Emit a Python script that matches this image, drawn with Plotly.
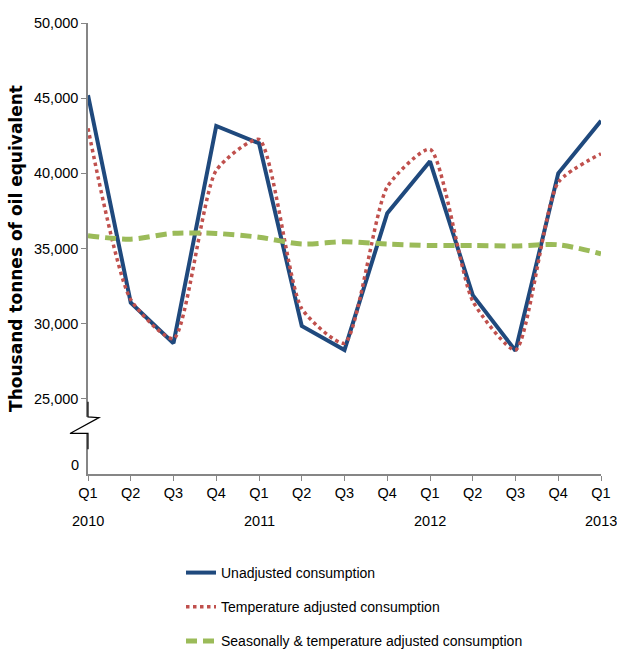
import plotly.graph_objects as go

# Quarterly energy consumption, thousand tonnes of oil equivalent
quarters = ["Q1", "Q2", "Q3", "Q4", "Q1", "Q2", "Q3", "Q4", "Q1", "Q2", "Q3", "Q4", "Q1"]
years = {0: "2010", 4: "2011", 8: "2012", 12: "2013"}

unadjusted = [45200, 31400, 28700, 43150, 42000, 29850, 28250, 37350, 40800, 31900, 28200, 40000, 43500]
temperature_adjusted = [43000, 31600, 29000, 40200, 42250, 31000, 28700, 39100, 41600, 31500, 28250, 39400, 41300]
seasonal_temp_adjusted = [35850, 35620, 36010, 36000, 35750, 35300, 35450, 35300, 35200, 35200, 35170, 35250, 34650]

y_ticks = [25000, 30000, 35000, 40000, 45000, 50000]
y_floor = 20000          # bottom of the broken axis, labelled as zero
zero_label_value = 20600

BLUE = "#1F497D"
RED = "#C0504D"
GREEN = "#9BBB59"
AXIS = "#868686"
FONT = "Liberation Sans, Arial, sans-serif"

x = list(range(len(quarters)))

fig = go.Figure()
fig.add_trace(go.Scatter(
    x=x, y=unadjusted, mode="lines", name="Unadjusted consumption",
    line=dict(color=BLUE, width=4), legendgroup="a"))
fig.add_trace(go.Scatter(
    x=x, y=temperature_adjusted, mode="lines", name="Temperature adjusted consumption",
    line=dict(color=RED, width=3.5, dash="dot", shape="spline", smoothing=0.6), legendgroup="b"))
fig.add_trace(go.Scatter(
    x=x, y=seasonal_temp_adjusted, mode="lines",
    name="Seasonally & temperature adjusted consumption",
    line=dict(color=GREEN, width=5, dash="11px,6px", shape="spline", smoothing=0.8), legendgroup="c"))

annotations = [
    dict(x=i, y=0, xref="x", yref="paper", text=t, showarrow=False,
         yanchor="top", yshift=-37, font=dict(family=FONT, size=14.5, color="#000"))
    for i, t in years.items()
]
annotations.append(dict(x=0, y=zero_label_value, xref="paper", yref="y", text="0",
                        showarrow=False, xanchor="right", xshift=-7,
                        font=dict(family=FONT, size=14.5, color="#000")))

shapes = [
    # gap in the value axis
    dict(type="rect", xref="paper", yref="y", xsizemode="pixel", xanchor=0,
         x0=-3, x1=3, y0=22700, y1=23800, fillcolor="white", line=dict(width=0),
         layer="above"),
    # axis-break zigzag
    dict(type="path", xref="paper", yref="y", xsizemode="pixel", xanchor=0,
         path="M 0,24810 L 0,23800 L 11,23750 L -18,22700 L 0,22700 L 0,21640",
         line=dict(color="black", width=1.2), layer="above"),
]

fig.update_layout(
    width=617, height=649,
    margin=dict(l=88, r=16, t=23, b=175, autoexpand=False),
    plot_bgcolor="white", paper_bgcolor="white",
    showlegend=True,
    legend=dict(
        x=(181 - 88) / 513, y=-0.184, xanchor="left", yanchor="top",
        orientation="v", traceorder="grouped", tracegroupgap=13,
        font=dict(family=FONT, size=14, color="#000"),
        bgcolor="rgba(0,0,0,0)"),
    xaxis=dict(
        range=[0, 12], tickmode="array", tickvals=x, ticktext=quarters,
        showline=True, linecolor=AXIS, linewidth=1.5,
        ticks="outside", ticklen=5, tickcolor=AXIS, tickwidth=1.2,
        showgrid=False, zeroline=False, automargin=False,
        tickfont=dict(family=FONT, size=14.5, color="#000")),
    yaxis=dict(
        range=[y_floor, 50000], tickmode="array", tickvals=y_ticks,
        tickformat=",d",
        showline=True, linecolor=AXIS, linewidth=1.5,
        ticks="outside", ticklen=5, tickcolor=AXIS, tickwidth=1.2,
        showgrid=False, zeroline=False, automargin=False,
        tickfont=dict(family=FONT, size=14.5, color="#000"),
        title=dict(text="Thousand tonnes of oil equivalent", standoff=7,
                   font=dict(family="DejaVu Sans", size=17, color="#000", weight="bold"))),
    annotations=annotations,
    shapes=shapes,
)

fig.write_html("out.html")
